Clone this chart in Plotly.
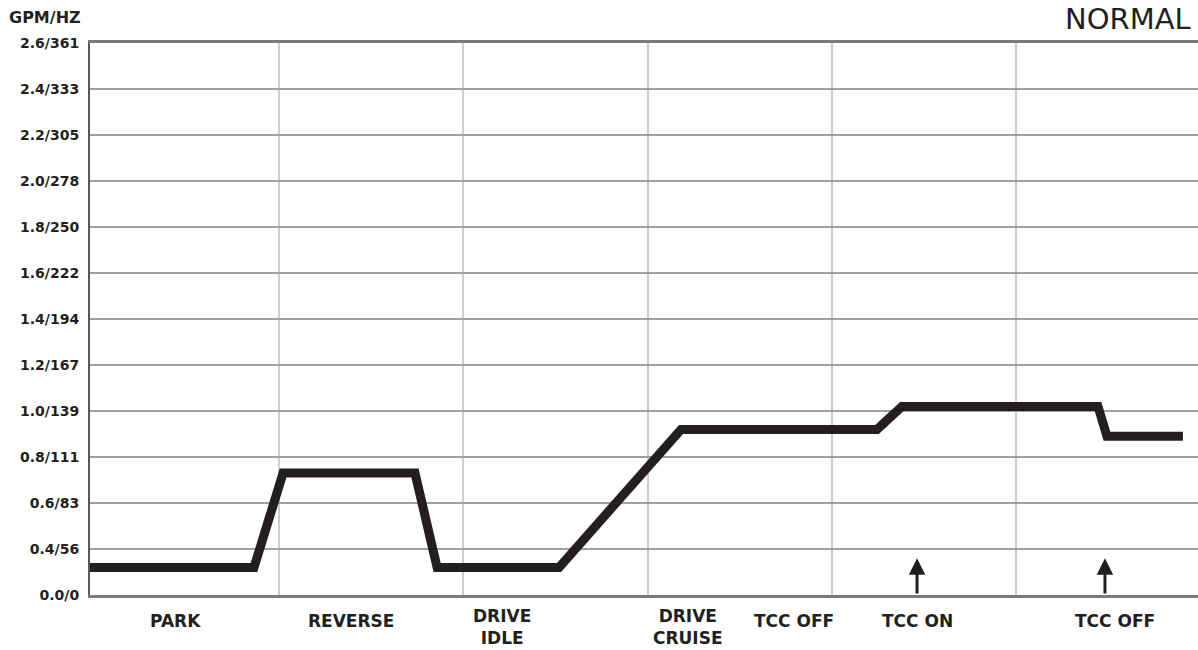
import numpy as np
import plotly.graph_objects as go

# ---- data ----
y_tick_gpm = [0.0, 0.4, 0.6, 0.8, 1.0, 1.2, 1.4, 1.6, 1.8, 2.0, 2.2, 2.4, 2.6]
y_tick_labels = ["0.0/0", "0.4/56", "0.6/83", "0.8/111", "1.0/139", "1.2/167",
                 "1.4/194", "1.6/222", "1.8/250", "2.0/278", "2.2/305",
                 "2.4/333", "2.6/361"]

phase_bounds = [1, 2, 3, 4, 5]
phase_labels = ["PARK", "REVERSE", "DRIVE<br>IDLE", "DRIVE<br>CRUISE",
                "TCC OFF", "TCC ON", "TCC OFF"]
phase_label_x = [0.44, 1.39, 2.21, 3.22, 3.795, 4.463, 5.54]

flow_x = [-0.026, 0.864, 1.022, 1.738, 1.858, 2.52, 3.182, 4.246, 4.381,
          5.445, 5.494, 5.906]
flow_gpm = [0.24, 0.24, 0.73, 0.73, 0.24, 0.24, 0.92, 0.92, 1.02, 1.02,
            0.89, 0.89]

arrow_x = [4.463, 5.483]
arrow_tip_gpm = 0.32

# axis scale: evenly spaced tick positions (broken first interval)
tick_pos = list(range(len(y_tick_gpm)))


def to_axis(v):
    return np.interp(v, y_tick_gpm, tick_pos)


INK = "#231f20"
FONT = "DejaVu Sans"

fig = go.Figure()
fig.add_trace(go.Scatter(
    x=flow_x, y=to_axis(flow_gpm), mode="lines",
    line=dict(color=INK, width=9), hoverinfo="skip", showlegend=False,
))

annotations = []
for ax_x in arrow_x:
    annotations.append(dict(
        x=ax_x, y=float(to_axis(arrow_tip_gpm)), xref="x", yref="y",
        ax=ax_x, ay=0, axref="x", ayref="y", text="", showarrow=True,
        arrowhead=2, arrowwidth=3, arrowsize=1.1, arrowcolor=INK,
    ))

for lx, lab in zip(phase_label_x, phase_labels):
    multi = "<br>" in lab
    annotations.append(dict(
        x=lx, y=0, xref="x", yref="paper", text=lab, showarrow=False,
        xanchor="center", yanchor="top" if multi else "middle",
        yshift=-10 if multi else -26, borderpad=0,
        font=dict(family=FONT, size=17, color=INK, weight="bold"),
    ))

annotations.append(dict(
    x=0, y=1, xref="paper", yref="paper", text="GPM/HZ", showarrow=False,
    xanchor="right", yanchor="middle", xshift=-7, yshift=26,
    font=dict(family=FONT, size=16, color=INK, weight="bold"),
))
annotations.append(dict(
    x=1, y=1, xref="paper", yref="paper", text="NORMAL", showarrow=False,
    xanchor="right", yanchor="middle", xshift=-5, yshift=24,
    font=dict(family=FONT, size=29, color=INK),
))

fig.update_layout(
    width=1198, height=650,
    margin=dict(l=90, r=0, t=43, b=55),
    paper_bgcolor="white", plot_bgcolor="white",
    annotations=annotations,
    xaxis=dict(
        range=[-0.026, 5.988], tickvals=phase_bounds, showticklabels=False,
        ticks="", showgrid=True, gridcolor="#cdcdcd", gridwidth=1.5,
        zeroline=False, showline=True, linecolor="#7a7a7a", linewidth=2.5,
        mirror=True,
    ),
    yaxis=dict(
        range=[0, 12], tickvals=tick_pos, ticktext=y_tick_labels,
        showgrid=True, gridcolor="#a0a0a0", gridwidth=1.5, zeroline=False,
        showline=True, linecolor="#5a5a5a", linewidth=2, ticks="outside",
        ticklen=6, tickcolor="rgba(0,0,0,0)",
        tickfont=dict(family=FONT, size=14, color=INK, weight="bold"),
    ),
)

fig.write_html(
    "out.html",
    config={"displayModeBar": False},
    post_script="document.body.style.margin='0';"
                "document.body.style.overflow='hidden';",
)
